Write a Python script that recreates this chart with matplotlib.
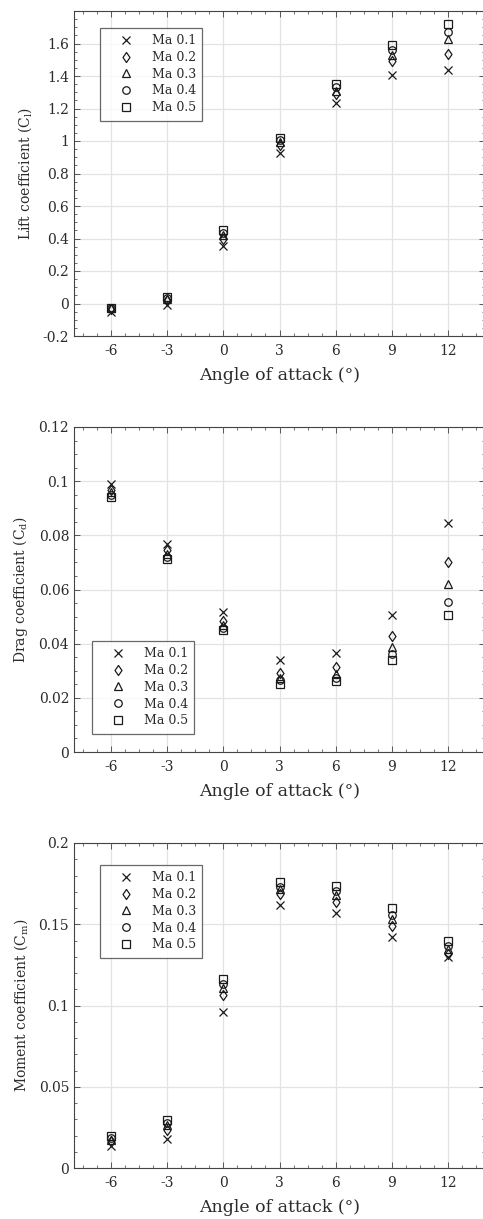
import matplotlib
matplotlib.use("Agg")
import matplotlib.pyplot as plt
from matplotlib.path import Path
from matplotlib.ticker import MultipleLocator, FixedLocator, FuncFormatter

plt.rcParams['font.family'] = ['DejaVu Serif']
plt.rcParams['axes.unicode_minus'] = False

alpha = [-6, -3, 0, 3, 6, 9, 12]
mach_labels = ["Ma 0.1", "Ma 0.2", "Ma 0.3", "Ma 0.4", "Ma 0.5"]

# slightly narrow diamond marker
diamond = Path([(0, 1), (0.7, 0), (0, -1), (-0.7, 0), (0, 1)],
               [Path.MOVETO, Path.LINETO, Path.LINETO, Path.LINETO, Path.CLOSEPOLY])
markers = ["x", diamond, "^", "o", "s"]
marker_sizes = [6.0, 7.2, 6.3, 5.4, 5.4]

cl_ma01 = [-0.050, -0.009, 0.351, 0.925, 1.232, 1.409, 1.440]
cl_ma02 = [-0.035, 0.020, 0.400, 0.977, 1.288, 1.491, 1.538]
cl_ma03 = [-0.030, 0.030, 0.420, 0.995, 1.310, 1.532, 1.629]
cl_ma04 = [-0.028, 0.035, 0.432, 1.008, 1.330, 1.563, 1.672]
cl_ma05 = [-0.027, 0.040, 0.450, 1.020, 1.352, 1.590, 1.720]

cd_ma01 = [0.0989, 0.0768, 0.0518, 0.0339, 0.0364, 0.0506, 0.0845]
cd_ma02 = [0.0968, 0.0746, 0.0485, 0.0292, 0.0315, 0.0428, 0.0703]
cd_ma03 = [0.0960, 0.0730, 0.0470, 0.0275, 0.0287, 0.0389, 0.0619]
cd_ma04 = [0.0950, 0.0720, 0.0459, 0.0265, 0.0275, 0.0361, 0.0553]
cd_ma05 = [0.0943, 0.0713, 0.0450, 0.0250, 0.0263, 0.0339, 0.0506]

cm_ma01 = [0.0133, 0.0180, 0.0960, 0.1620, 0.1570, 0.1424, 0.1300]
cm_ma02 = [0.0164, 0.0236, 0.1067, 0.1688, 0.1640, 0.1487, 0.1320]
cm_ma03 = [0.0175, 0.0267, 0.1110, 0.1717, 0.1680, 0.1532, 0.1348]
cm_ma04 = [0.0185, 0.0280, 0.1130, 0.1730, 0.1707, 0.1560, 0.1364]
cm_ma05 = [0.0195, 0.0297, 0.1165, 0.1760, 0.1733, 0.1600, 0.1395]

cl_series = [cl_ma01, cl_ma02, cl_ma03, cl_ma04, cl_ma05]
cd_series = [cd_ma01, cd_ma02, cd_ma03, cd_ma04, cd_ma05]
cm_series = [cm_ma01, cm_ma02, cm_ma03, cm_ma04, cm_ma05]

cl_ticks = [-0.2, 0, 0.2, 0.4, 0.6, 0.8, 1, 1.2, 1.4, 1.6]
cd_ticks = [0, 0.02, 0.04, 0.06, 0.08, 0.1, 0.12]
cm_ticks = [0, 0.05, 0.1, 0.15, 0.2]

W, H = 483, 1219
fig = plt.figure(figsize=(W / 100, H / 100), dpi=100)
fig.patch.set_facecolor("white")

TXT = "#2b2b2b"


def fmt(v, pos):
    s = ("%.2f" % v).rstrip("0").rstrip(".")
    return "0" if s in ("-0", "") else s


def make_axes(top_px, bottom_px):
    left, right = 74, 485
    return fig.add_axes([left / W, 1 - bottom_px / H,
                         (right - left) / W, (bottom_px - top_px) / H])


def style(ax, ylim, yticks, yminor, ylabel, legend_xy):
    ax.set_xlim(-8, 14)
    ax.set_ylim(*ylim)
    ax.xaxis.set_major_locator(FixedLocator(alpha))
    ax.xaxis.set_minor_locator(MultipleLocator(0.75))
    ax.yaxis.set_major_locator(FixedLocator(yticks))
    ax.yaxis.set_minor_locator(MultipleLocator(yminor))
    ax.yaxis.set_major_formatter(FuncFormatter(fmt))
    ax.tick_params(which="both", direction="in", top=True, right=True,
                   colors="#555555", labelcolor=TXT, labelsize=10)
    ax.tick_params(which="major", length=4, width=0.7)
    ax.tick_params(which="minor", length=2, width=0.6)
    ax.tick_params(axis="x", pad=6)
    ax.grid(True, which="major", color="#e3e3e3", linewidth=0.9)
    ax.set_axisbelow(True)
    for sp in ax.spines.values():
        sp.set_color("#444444")
        sp.set_linewidth(0.8)
    ax.set_xlabel("Angle of attack (°)", fontsize=12.5, color=TXT, labelpad=6)
    ax.set_ylabel(ylabel, fontsize=10, color=TXT, labelpad=6)
    leg = ax.legend(loc="upper left", bbox_to_anchor=legend_xy,
                    fontsize=9, frameon=True, fancybox=False,
                    borderpad=0.5, labelspacing=0.3, handletextpad=0.45,
                    handlelength=3.2, borderaxespad=0)
    leg.get_frame().set_edgecolor("#444444")
    leg.get_frame().set_linewidth(0.9)
    for t in leg.get_texts():
        t.set_color(TXT)


def scatter_series(ax, series):
    for vals, mk, ms, lab in zip(series, markers, marker_sizes, mach_labels):
        ax.plot(alpha, vals, linestyle="none", marker=mk, markersize=ms,
                markerfacecolor="none", markeredgecolor="#1a1a1a",
                markeredgewidth=0.9, label=lab)


ax1 = make_axes(11, 336)
scatter_series(ax1, cl_series)
style(ax1, (-0.2, 1.8), cl_ticks, 0.05, "Lift coefficient (C$_\\mathregular{l}$)",
      ((100 - 74) / 411, (336 - 28) / 325))

ax2 = make_axes(427, 752)
scatter_series(ax2, cd_series)
style(ax2, (0, 0.12), cd_ticks, 0.005, "Drag coefficient (C$_\\mathregular{d}$)",
      ((92 - 74) / 411, (752 - 641) / 325))

ax3 = make_axes(843, 1168)
scatter_series(ax3, cm_series)
style(ax3, (0, 0.2), cm_ticks, 0.01, "Moment coefficient (C$_\\mathregular{m}$)",
      ((100 - 74) / 411, (1168 - 865) / 325))

fig.savefig("out.png", dpi=100, facecolor="white")
